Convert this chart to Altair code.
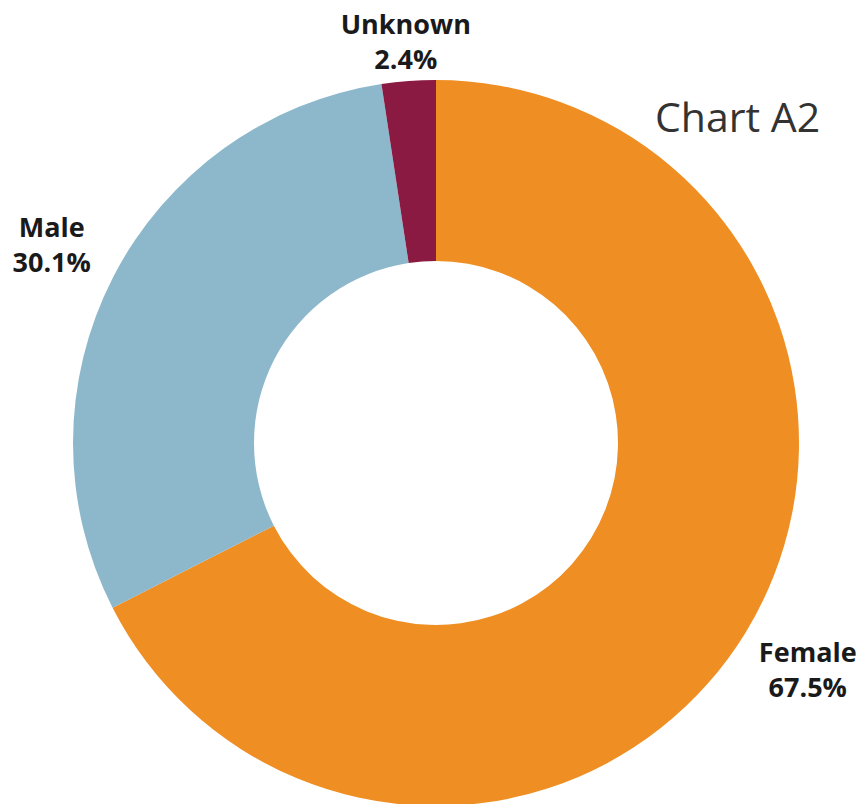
import altair as alt
import pandas as pd

categories = ["Female", "Male", "Unknown"]
values = [67.5, 30.1, 2.4]
pct_labels = ["67.5%", "30.1%", "2.4%"]
colors = ["#EF8E22", "#8DB8CB", "#8B1A42"]

df = pd.DataFrame({"category": categories, "value": values, "pct": pct_labels,
                   "order": [0, 1, 2]})

W, H = 851, 796
CX, CY = 428, 435

base = alt.Chart(df).encode(
    theta=alt.Theta("value:Q", stack=True),
    order=alt.Order("order:Q"),
)

arcs = base.mark_arc(outerRadius=363, innerRadius=182, stroke=None).encode(
    color=alt.Color("category:N", scale=alt.Scale(domain=categories, range=colors), legend=None),
    x=alt.value(CX), y=alt.value(CY),
)

label_radius = alt.ExprRef(
    "datum.category === 'Unknown' ? 401 : (datum.category === 'Male' ? 432 : 436)"
)

names = base.mark_text(radius=label_radius, font="Open Sans", fontWeight="bold", fontSize=27,
                       color="#1a1a1a", dy=-17).encode(
    text="category:N", x=alt.value(CX), y=alt.value(CY))
pcts = base.mark_text(radius=label_radius, font="Open Sans", fontWeight="bold", fontSize=27,
                      color="#1a1a1a", dy=18).encode(
    text="pct:N", x=alt.value(CX), y=alt.value(CY))

title = alt.Chart(pd.DataFrame({"t": ["Chart A2"]})).mark_text(
    font="Open Sans", fontSize=41, color="#333333", align="left", baseline="middle"
).encode(text="t:N", x=alt.value(647), y=alt.value(112))

chart = alt.layer(arcs, names, pcts, title).properties(
    width=W, height=H, padding=0, autosize=alt.AutoSizeParams(type="none")
).configure_view(stroke=None)

chart.save("out.html", embed_options={"renderer": "svg", "actions": False})
